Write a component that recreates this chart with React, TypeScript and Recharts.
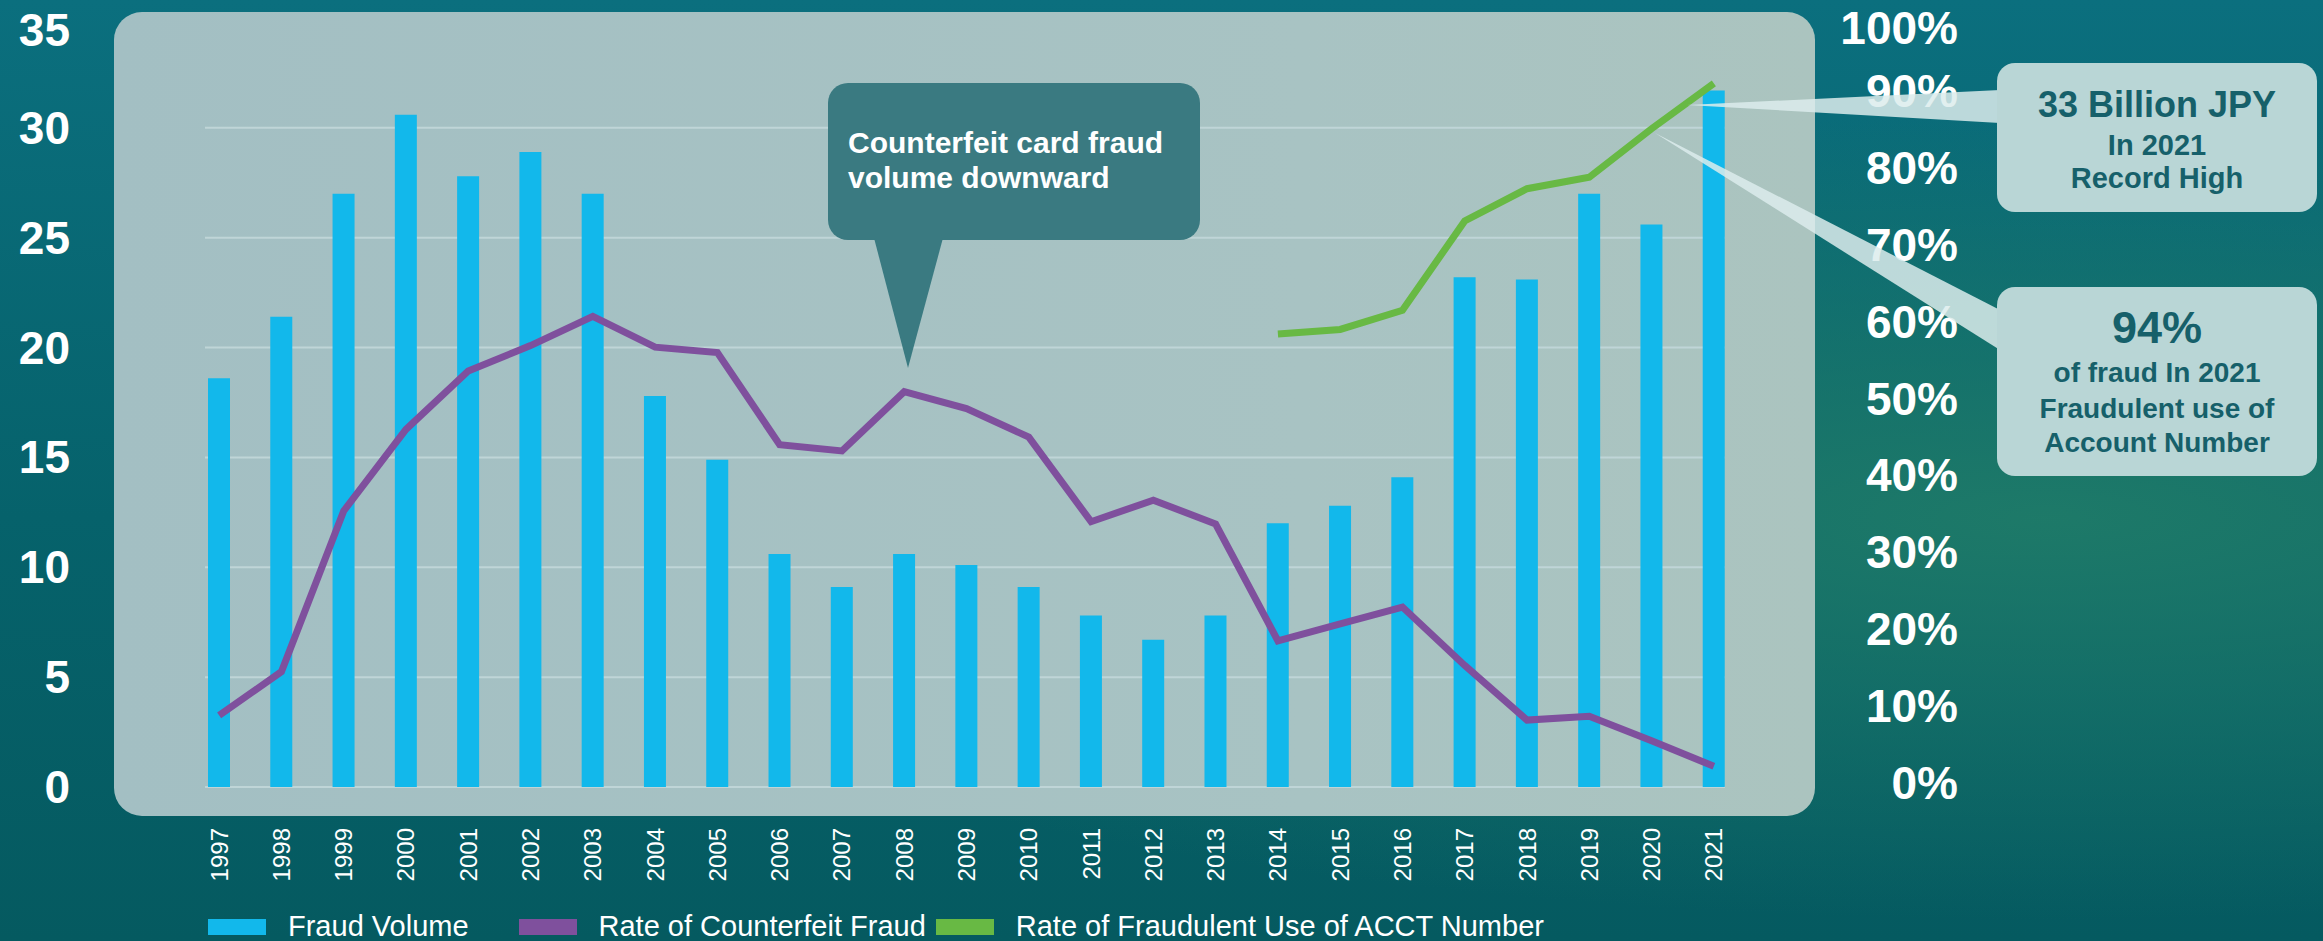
import { ComposedChart, Bar, Line, XAxis, YAxis, CartesianGrid, Legend } from "recharts"

const years = [
  "1997", "1998", "1999", "2000", "2001", "2002", "2003", "2004", "2005", "2006", "2007", "2008", "2009",
  "2010", "2011", "2012", "2013", "2014", "2015", "2016", "2017", "2018", "2019", "2020", "2021",
]

// billions of JPY (left axis)
const fraudVolume = [
  18.6, 21.4, 27.0, 30.6, 27.8, 28.9, 27.0, 17.8, 14.9, 10.6, 9.1, 10.6, 10.1,
  9.1, 7.8, 6.7, 7.8, 12.0, 12.8, 14.1, 23.2, 23.1, 27.0, 25.6, 31.7,
]

// percent (right axis)
const counterfeitRate = [
  9.3, 15.0, 35.9, 46.5, 54.1, 57.4, 61.2, 57.2, 56.5, 44.5, 43.7, 51.4, 49.2,
  45.5, 34.5, 37.3, 34.2, 19.0, 21.2, 23.4, 15.8, 8.7, 9.2, 6.0, 2.7,
]

const acctNumberRate = [
  null, null, null, null, null, null, null, null, null, null, null, null, null,
  null, null, null, null, 58.9, 59.5, 62.0, 73.6, 77.8, 79.3, 85.6, 91.5,
]

const leftTicks = [0, 5, 10, 15, 20, 25, 30, 35]
const rightTicks = [0, 10, 20, 30, 40, 50, 60, 70, 80, 90, 100]
const gridValues = [0, 5, 10, 15, 20, 25, 30]

const data = years.map((year, i) => ({
  year,
  volume: fraudVolume[i],
  counterfeit: counterfeitRate[i],
  acct: acctNumberRate[i],
}))

const FONT = "'Liberation Sans', Arial, sans-serif"
const DARK_TEXT = "#16606a"
const legendGaps = [50, 10, 0]

const LeftTick = ({ x, y, payload }: any) => (
  <text x={x} y={Math.max(y, 30)} textAnchor="end" dominantBaseline="central" fill="#fff" fontSize={46} fontWeight="bold" fontFamily={FONT}>
    {payload.value}
  </text>
)

const RightTick = ({ x, y, payload }: any) => (
  <text x={x} y={Math.max(y - 4, 28)} textAnchor="end" dominantBaseline="central" fill="#fff" fontSize={46} fontWeight="bold" fontFamily={FONT}>
    {`${payload.value}%`}
  </text>
)

const YearTick = ({ x, y, payload }: any) => (
  <text
    x={x}
    y={y}
    transform={`rotate(-90, ${x}, ${y})`}
    textAnchor="end"
    dominantBaseline="central"
    fill="#fff"
    fontSize={24}
    fontFamily={FONT}
  >
    {payload.value}
  </text>
)

const renderLegend = (props: any) => {
  const { payload } = props
  return (
    <div style={{ display: "flex", alignItems: "center", fontFamily: FONT, fontSize: 29, color: "#fff" }}>
      {payload.map((entry: any, i: number) => (
        <div key={entry.value} style={{ display: "flex", alignItems: "center", marginRight: legendGaps[i] }}>
          <span style={{ display: "inline-block", width: 58, height: 16, background: entry.color, marginRight: 22 }} />
          <span>{entry.value}</span>
        </div>
      ))}
    </div>
  )
}

function Callouts() {
  return (
    <svg width={2323} height={941} style={{ position: "absolute", left: 0, top: 0, pointerEvents: "none" }}>
      {/* dark speech bubble */}
      <rect x={828} y={83} width={372} height={157} rx={20} fill="#3a7a81" />
      <polygon points="874,238 943,238 908,368" fill="#3a7a81" />
      <text x={848} y={153} fill="#fff" fontSize={30} fontWeight="bold" fontFamily={FONT}>Counterfeit card fraud</text>
      <text x={848} y={188} fill="#fff" fontSize={30} fontWeight="bold" fontFamily={FONT}>volume downward</text>

      {/* wedges */}
      <polygon points="1687,105 2000,90 2000,123" fill="#dcecec" opacity={0.85} />
      <polygon points="1655,133 2000,310 2000,350" fill="#dcecec" opacity={0.85} />

      {/* light callouts */}
      <rect x={1997} y={63} width={320} height={149} rx={18} fill="#b9d6d6" />
      <text x={2157} y={117} textAnchor="middle" fill={DARK_TEXT} fontSize={36} fontWeight="bold" fontFamily={FONT}>33 Billion JPY</text>
      <text x={2157} y={155} textAnchor="middle" fill={DARK_TEXT} fontSize={29} fontWeight="bold" fontFamily={FONT}>In 2021</text>
      <text x={2157} y={188} textAnchor="middle" fill={DARK_TEXT} fontSize={29} fontWeight="bold" fontFamily={FONT}>Record High</text>

      <rect x={1997} y={287} width={320} height={189} rx={18} fill="#b9d6d6" />
      <text x={2157} y={343} textAnchor="middle" fill={DARK_TEXT} fontSize={45} fontWeight="bold" fontFamily={FONT}>94%</text>
      <text x={2157} y={382} textAnchor="middle" fill={DARK_TEXT} fontSize={28} fontWeight="bold" fontFamily={FONT}>of fraud In 2021</text>
      <text x={2157} y={418} textAnchor="middle" fill={DARK_TEXT} fontSize={28} fontWeight="bold" fontFamily={FONT}>Fraudulent use of</text>
      <text x={2157} y={452} textAnchor="middle" fill={DARK_TEXT} fontSize={28} fontWeight="bold" fontFamily={FONT}>Account  Number</text>
    </svg>
  )
}

export default function App() {
  return (
    <div
      style={{
        position: "absolute",
        left: 0,
        top: 0,
        width: 2323,
        height: 941,
        overflow: "hidden",
        background:
          "radial-gradient(ellipse at 88% 55%, rgba(32,124,104,0.9) 0%, rgba(32,124,104,0) 55%), linear-gradient(180deg, #0b6f7e 0%, #06626b 55%, #055a60 100%)",
      }}
    >
      {/* plot panel */}
      <div
        style={{
          position: "absolute",
          left: 114,
          top: 12,
          width: 1701,
          height: 804,
          borderRadius: 28,
          background: "linear-gradient(90deg, #a3bfc3 0%, #a8c3c3 70%, #abc4bf 100%)",
        }}
      />
      <div style={{ position: "absolute", left: 0, top: 0 }}>
        <ComposedChart width={2323} height={941} data={data} margin={{ top: 18, right: 368, left: 105, bottom: 54 }}>
          <CartesianGrid yAxisId="left" vertical={false} horizontalValues={gridValues} stroke="#bfd5d7" strokeWidth={2} />
          <XAxis
            dataKey="year"
            interval={0}
            padding={{ left: -17, right: -20 }}
            axisLine={false}
            tickLine={false}
            tickSize={0}
            tickMargin={41}
            height={100}
            tick={<YearTick />}
          />
          <YAxis
            yAxisId="left"
            domain={[0, 35]}
            ticks={leftTicks}
            width={100}
            axisLine={false}
            tickLine={false}
            tickSize={0}
            tickMargin={135}
            tick={<LeftTick />}
          />
          <YAxis
            yAxisId="right"
            orientation="right"
            domain={[0, 100]}
            ticks={rightTicks}
            width={230}
            axisLine={false}
            tickLine={false}
            tickSize={0}
            tickMargin={233}
            tick={<RightTick />}
          />
          <Bar yAxisId="left" dataKey="volume" name="Fraud Volume" fill="#12b8eb" barSize={22} isAnimationActive={false} />
          <Line
            yAxisId="right"
            type="linear"
            dataKey="counterfeit"
            name="Rate of Counterfeit Fraud"
            stroke="#7f509d"
            strokeWidth={7}
            strokeLinejoin="miter"
            dot={false}
            activeDot={false}
            isAnimationActive={false}
          />
          <Line
            yAxisId="right"
            type="linear"
            dataKey="acct"
            name="Rate of Fraudulent Use of ACCT Number"
            stroke="#68b944"
            strokeWidth={7}
            strokeLinejoin="miter"
            dot={false}
            activeDot={false}
            isAnimationActive={false}
          />
          <Legend
            layout="horizontal"
            verticalAlign="middle"
            align="center"
            content={renderLegend}
            wrapperStyle={{ left: 208, top: 910, width: 1500, height: 34 }}
          />
        </ComposedChart>
      </div>
      <Callouts />
    </div>
  )
}
